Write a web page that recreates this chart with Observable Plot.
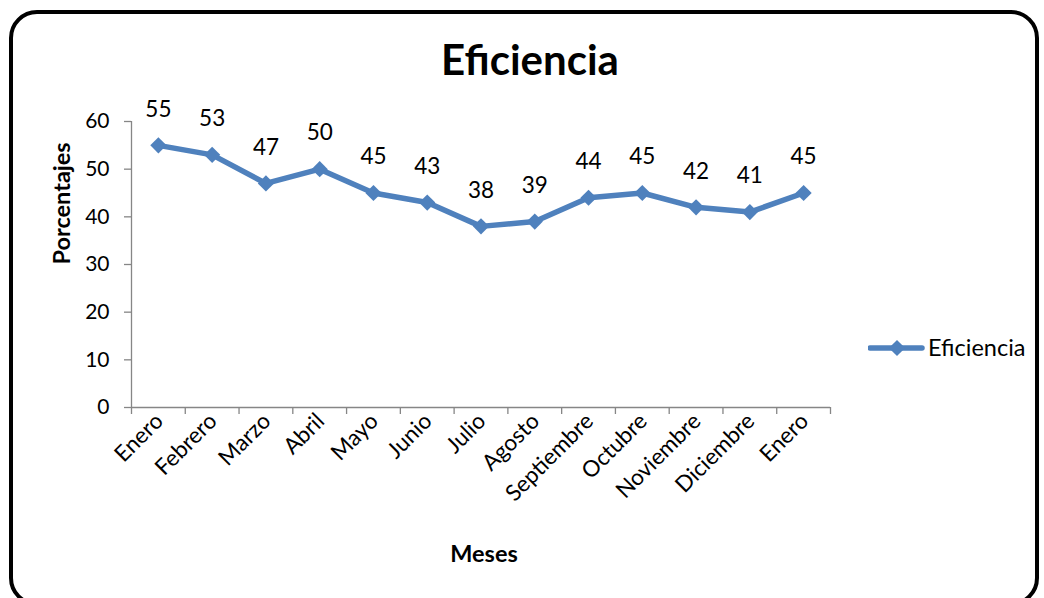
<!DOCTYPE html>
<html><head><meta charset="utf-8">
<script src="https://cdn.jsdelivr.net/npm/d3@7"></script>
<script src="https://cdn.jsdelivr.net/npm/@observablehq/plot@0.6"></script>
<style>
html,body{margin:0;padding:0;background:#fff;}
#wrap{position:relative;width:1044px;height:598px;overflow:hidden;font-family:Lato,"Open Sans",sans-serif;}
#frame{position:absolute;left:9px;top:10px;width:1030px;height:596px;border:4px solid #000;border-radius:28px;box-sizing:border-box;}
#title{position:absolute;left:0;width:1060px;top:34px;text-align:center;font-weight:bold;font-size:42px;color:#000;line-height:1.2;}
#chart{position:absolute;left:0;top:0;}
#legend{position:absolute;left:868px;top:334px;}
</style></head>
<body><div id="wrap"><div id="frame"></div><div id="chart"></div><div id="title">Eficiencia</div><div id="legend"></div></div>
<script>
const months = ["Enero","Febrero","Marzo","Abril","Mayo","Junio","Julio","Agosto","Septiembre","Octubre","Noviembre","Diciembre","Enero"];
const values = [55,53,47,50,45,43,38,39,44,45,42,41,45];
const yTicks = [0,10,20,30,40,50,60];
const seriesName = "Eficiencia";
const color = "#4F81BD";

const data = months.map((m,i)=>({i, x:i+0.5, m, v:values[i]}));
const centers = data.map(d=>d.x);
const bounds = d3.range(0, months.length+1);

const chart = Plot.plot({
  width:1044, height:598,
  marginLeft:131, marginRight:214, marginTop:121, marginBottom:191,
  style:{fontFamily:"Lato, 'Open Sans', sans-serif", background:"transparent", color:"#000"},
  x:{domain:[0, months.length], axis:null},
  y:{domain:[0,60], axis:null},
  marks:[
    Plot.ruleX([0], {stroke:"#868686", strokeWidth:1.3}),
    Plot.ruleY([0], {stroke:"#868686", strokeWidth:1.3}),
    Plot.axisY(yTicks, {anchor:"left", tickSize:7, tickPadding:15, fontSize:21, stroke:"#868686", strokeWidth:1.3, label:null}),
    Plot.axisX(bounds, {anchor:"bottom", tickSize:7, tickFormat:()=>"", stroke:"#868686", strokeWidth:1.3, label:null}),
    Plot.axisX(centers, {anchor:"bottom", tickSize:0, tickPadding:10, tickRotate:-45, fontSize:22.5, dx:1, tickFormat:(d)=>months[Math.round(d-0.5)], label:null}),
    Plot.line(data, {x:"x", y:"v", stroke:color, strokeWidth:5.5}),
    Plot.dot(data, {x:"x", y:"v", symbol:"diamond2", r:7.3, fill:color, stroke:null}),
    Plot.text(data, {x:"x", y:"v", text:d=>String(d.v), dy:-36, fontSize:22.5, fill:"#000"}),
    Plot.text(["Porcentajes"], {frameAnchor:"left", dx:-69, rotate:-90, text:d=>d, fontSize:23.5, fontWeight:"bold", fill:"#000"}),
    Plot.text(["Meses"], {frameAnchor:"bottom", dx:3, dy:154, text:d=>d, fontSize:23.5, fontWeight:"bold", fill:"#000"})
  ]
});
document.getElementById("chart").appendChild(chart);

const lg = d3.select("#legend").append("svg").attr("width",176).attr("height",30);
lg.append("line").attr("x1",2).attr("x2",54).attr("y1",14).attr("y2",14).attr("stroke",color).attr("stroke-width",5.5).attr("stroke-linecap","round");
lg.append("path").attr("d",d3.symbol(d3.symbolDiamond2, 7.3*7.3*Math.PI)()).attr("transform","translate(29,14)").attr("fill",color);
lg.append("text").attr("x",60).attr("y",14).attr("dy","0.35em").attr("font-size",23.5).attr("font-family","Lato, 'Open Sans', sans-serif").text(seriesName);
</script></body></html>
